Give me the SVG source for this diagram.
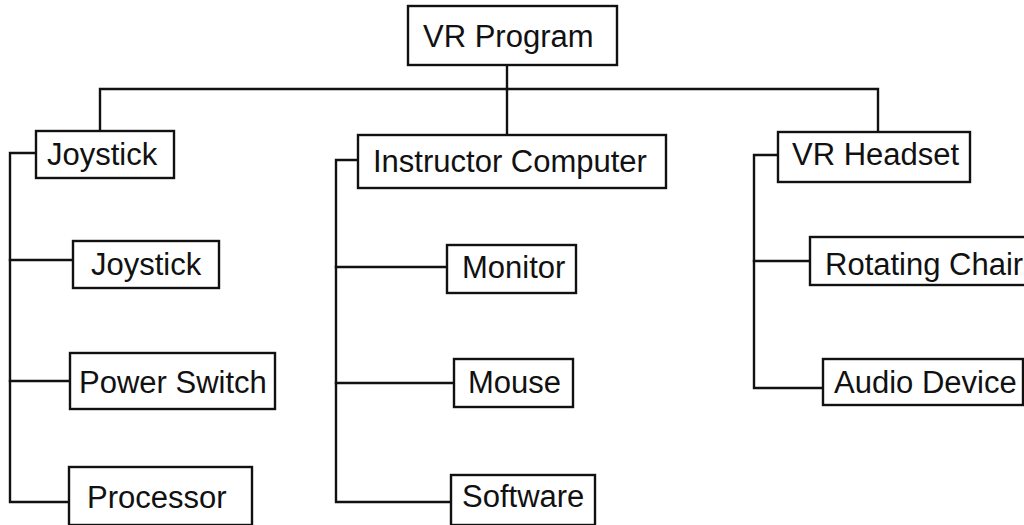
<svg xmlns="http://www.w3.org/2000/svg" width="1024" height="525" viewBox="0 0 1024 525">
  <style>
    .box { fill: #ffffff; stroke: #111111; stroke-width: 2.4; }
    .lbl { font-family: "Liberation Sans", Arial, sans-serif; font-size: 31px; fill: #111111; }
    .wire { fill: none; stroke: #111111; stroke-width: 2.4; stroke-linecap: square; stroke-linejoin: miter; }
  </style>
  <rect width="1024" height="525" fill="#ffffff"/>

  <!-- connectors -->
  <g id="connectors">
    <!-- root to level one -->
    <path class="wire" d="M507,65 V89"/>
    <path class="wire" d="M100,131 V89 H878 V132"/>
    <path class="wire" d="M507,89 V135"/>
    <!-- Joystick branch -->
    <path class="wire" d="M36,153 H10 V502 H69"/>
    <path class="wire" d="M10,260 H73"/>
    <path class="wire" d="M10,381 H70"/>
    <!-- Instructor Computer branch -->
    <path class="wire" d="M358,160 H336 V502 H451"/>
    <path class="wire" d="M336,267 H447"/>
    <path class="wire" d="M336,383 H454"/>
    <!-- VR Headset branch -->
    <path class="wire" d="M778,155 H754 V388 H823"/>
    <path class="wire" d="M754,261 H810"/>
  </g>

  <g id="node-vr-program">
    <rect class="box" x="408" y="6" width="209" height="59"/>
    <text class="lbl" x="423" y="47">VR Program</text>
  </g>

  <g id="node-joystick-group">
    <rect class="box" x="36" y="131" width="138" height="47"/>
    <text class="lbl" x="47" y="165">Joystick</text>
  </g>
  <g id="node-joystick">
    <rect class="box" x="73" y="241" width="146" height="47"/>
    <text class="lbl" x="91" y="275">Joystick</text>
  </g>
  <g id="node-power-switch">
    <rect class="box" x="70" y="353" width="205" height="56"/>
    <text class="lbl" x="79" y="393">Power Switch</text>
  </g>
  <g id="node-processor">
    <rect class="box" x="69" y="467" width="183" height="58"/>
    <text class="lbl" x="87" y="508">Processor</text>
  </g>

  <g id="node-instructor-computer">
    <rect class="box" x="358" y="135" width="308" height="53"/>
    <text class="lbl" x="373" y="172">Instructor Computer</text>
  </g>
  <g id="node-monitor">
    <rect class="box" x="447" y="245" width="129" height="48"/>
    <text class="lbl" x="462" y="278">Monitor</text>
  </g>
  <g id="node-mouse">
    <rect class="box" x="454" y="359" width="119" height="48"/>
    <text class="lbl" x="468" y="393">Mouse</text>
  </g>
  <g id="node-software">
    <rect class="box" x="451" y="475" width="144" height="50"/>
    <text class="lbl" x="462" y="507">Software</text>
  </g>

  <g id="node-vr-headset">
    <rect class="box" x="778" y="132" width="192" height="50"/>
    <text class="lbl" x="792" y="165">VR Headset</text>
  </g>
  <g id="node-rotating-chair">
    <rect class="box" x="810" y="237" width="230" height="48"/>
    <text class="lbl" x="825" y="275">Rotating Chair</text>
  </g>
  <g id="node-audio-device">
    <rect class="box" x="823" y="359" width="200" height="46"/>
    <text class="lbl" x="834" y="393">Audio Device</text>
  </g>
</svg>
